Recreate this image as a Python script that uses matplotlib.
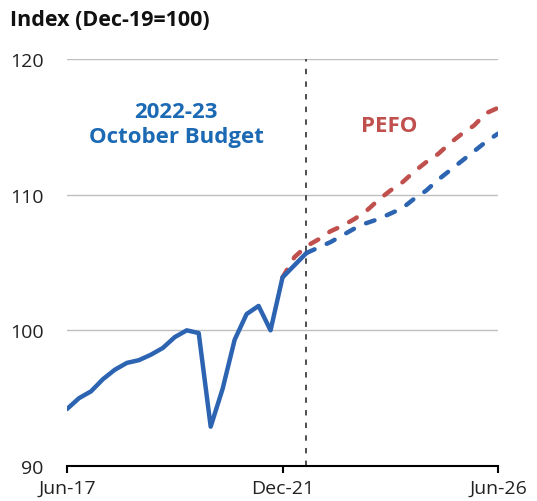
import numpy as np
import matplotlib.pyplot as plt

plt.rcParams['font.family'] = ['Open Sans', 'DejaVu Sans']

# Quarterly index, Dec-19 = 100 (quarter 0 = Jun-17)
actual_q = list(range(0, 21))
actual = [94.2, 95.0, 95.5, 96.4, 97.1, 97.6, 97.8, 98.2, 98.7, 99.5, 100.0,
          99.8, 92.9, 95.7, 99.3, 101.2, 101.8, 100.0, 103.9, 104.8, 105.7]

budget_q = list(range(20, 37))
budget = [105.7, 106.1, 106.5, 107.0, 107.5, 107.9, 108.2, 108.6, 109.0,
          109.7, 110.3, 111.1, 111.8, 112.5, 113.2, 113.9, 114.5]

pefo_q = list(range(18, 37))
pefo = [103.9, 105.4, 106.2, 106.7, 107.3, 107.7, 108.2, 108.8, 109.6, 110.3,
        110.9, 111.7, 112.4, 113.0, 113.8, 114.5, 115.1, 116.0, 116.4]

tick_q = [0, 18, 36]
tick_labels = ['Jun-17', 'Dec-21', 'Jun-26']
cutoff_q = 20

blue = '#2C64B2'
red = '#C0504D'
text_blue = '#1C69B4'

fig = plt.figure(figsize=(5.37, 5.02), dpi=100)
ax = fig.add_axes([0.1248, 0.0697, 0.8026, 0.8108])

# Gridlines
for v in [100, 110, 120]:
    ax.axhline(v, color='#BFBFBF', lw=1.0, zorder=0)

# Forecast cut-off
ax.axvline(cutoff_q, color='#404040', lw=1.3, ls=(0, (3, 4)), zorder=1)

dash = (0, (2.0, 3.0))
ax.plot(pefo_q, pefo, color=red, lw=3.2, ls=dash,
        dash_capstyle='round', zorder=2)
ax.plot(budget_q, budget, color=blue, lw=3.2, ls=dash,
        dash_capstyle='round', zorder=3)
ax.plot(actual_q, actual, color=blue, lw=3.2, solid_capstyle='round',
        solid_joinstyle='round', zorder=4)

ax.set_xlim(0, 36)
ax.set_ylim(90, 120)
ax.set_yticks([90, 100, 110, 120])
ax.set_xticks(tick_q)
ax.set_xticklabels(tick_labels)

for s in ['top', 'right', 'left']:
    ax.spines[s].set_visible(False)
ax.spines['bottom'].set_linewidth(1.5)
ax.spines['bottom'].set_zorder(5)
ax.tick_params(axis='y', length=0, pad=17, labelsize=14, colors='#222222')
ax.tick_params(axis='x', length=5, width=1.5, pad=4, labelsize=14,
               colors='black', labelcolor='#222222')

ax.text(9.1, 115.2, '2022-23\nOctober Budget', color=text_blue, fontsize=16,
        fontweight='bold', ha='center', va='center', linespacing=1.25)
ax.text(26.9, 115.1, 'PEFO', color=red, fontsize=16, fontweight='bold',
        ha='center', va='center')

fig.text(0.018, 0.96, 'Index (Dec-19=100)', fontsize=15.5, fontweight='bold',
         ha='left', va='center', color='#111111')

fig.savefig('out.png', dpi=100)
